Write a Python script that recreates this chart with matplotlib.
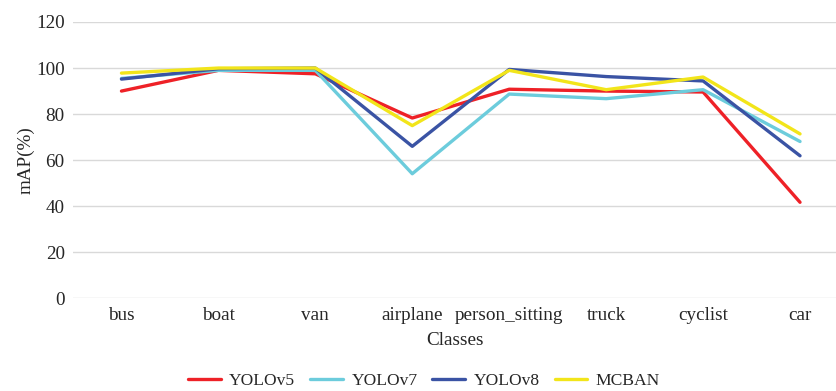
import matplotlib
matplotlib.use("Agg")
import matplotlib.pyplot as plt

plt.rcParams['font.family'] = ['Liberation Serif', 'DejaVu Serif']

classes = ["bus", "boat", "van", "airplane", "person_sitting", "truck", "cyclist", "car"]
yolov5 = [90, 99, 97.5, 78.3, 90.8, 90.0, 89.6, 41.7]
yolov7 = [95.5, 99, 99, 54.1, 88.7, 86.7, 90.6, 68.1]
yolov8 = [95.2, 99.7, 100, 66.0, 99.4, 96.3, 94.4, 61.9]
mcban = [97.8, 100, 100, 75.0, 99.0, 90.6, 96.1, 71.4]
series_names = ["YOLOv5", "YOLOv7", "YOLOv8", "MCBAN"]
colors = ["#EE2127", "#6CCCDC", "#3A53A4", "#F2E51A"]
yticks = [0, 20, 40, 60, 80, 100, 120]

fs = 13.8
tc = '#262626'

fig = plt.figure(figsize=(8.37, 3.91), dpi=100)
ax = fig.add_axes([73/837, (391-298.3)/391, 1-73/837, (298.3-22)/391])

x = list(range(len(classes)))
for vals, name, c in zip([yolov5, yolov7, yolov8, mcban], series_names, colors):
    ax.plot(x, vals, color=c, lw=2.4, label=name, solid_capstyle='round', solid_joinstyle='round')

ax.set_ylim(0, 120)
ax.set_xlim(-0.5, (837-121)/97)
ax.set_yticks(yticks)
ax.set_xticks(x)
ax.set_xticklabels(classes)
ax.tick_params(axis='both', length=0, labelsize=fs, colors=tc)
ax.tick_params(axis='x', pad=6)
ax.tick_params(axis='y', pad=6)
ax.grid(axis='y', color='#D9D9D9', lw=1)
ax.set_axisbelow(True)
for s in ax.spines.values():
    s.set_visible(False)
ax.set_ylabel("mAP(%)", fontsize=fs, color=tc, labelpad=1)
ax.set_xlabel("Classes", fontsize=fs, color=tc, labelpad=6)

fig.legend(loc='center', bbox_to_anchor=(424/837, 1-381/391), ncol=4, frameon=False,
           fontsize=12.6, handlelength=1.85, columnspacing=0.85, handletextpad=0.5)
for t in fig.legends[0].get_texts():
    t.set_color(tc)

fig.savefig("out.png", dpi=100)
